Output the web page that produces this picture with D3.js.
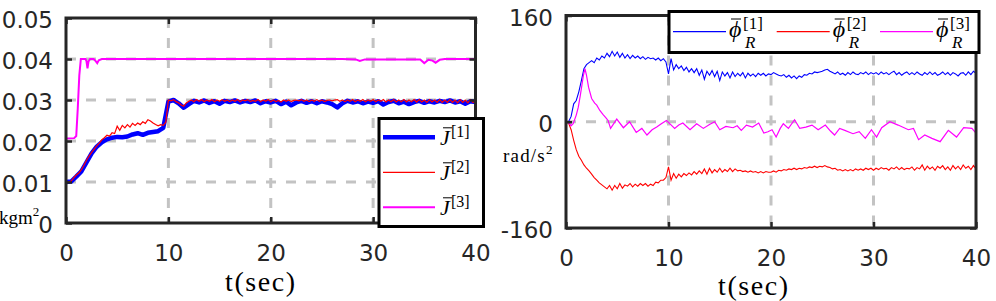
<!DOCTYPE html>
<html><head><meta charset="utf-8">
<script src="https://cdn.jsdelivr.net/npm/d3@7"></script>
<style>
html,body{margin:0;padding:0;background:#fff;}
svg{display:block;}
</style></head>
<body>
<svg id="chart" width="996" height="301"></svg>
<script>
// ---------------- data ----------------
const xTicks = [0, 10, 20, 30, 40];
const xTickLabels = ["0", "10", "20", "30", "40"];
const leftYTicks = [0, 0.01, 0.02, 0.03, 0.04, 0.05];
const leftYTickLabels = ["0", "0.01", "0.02", "0.03", "0.04", "0.05"];
const rightYTicks = [-160, 0, 160];
const rightYTickLabels = ["-160", "0", "160"];
const xLabelText = "t(sec)";
const leftUnit = "kgm";
const rightUnit = "rad/s";
const unitPower = "2";
const seriesIdx = ["[1]", "[2]", "[3]"];

// J^[1] (blue), sampled every 0.5 s
const J1_step = 0.5;
const J1 = [0.0100,0.0101,0.0113,0.0126,0.0148,0.0170,0.0186,0.0197,0.0204,0.0208,
0.0210,0.0209,0.0211,0.0216,0.0219,0.0215,0.0220,0.0222,0.0224,0.0232,
0.0296,0.0300,0.0292,0.0281,0.0290,0.0298,0.0294,0.0299,0.0293,0.0297,
0.0291,0.0298,0.0295,0.0299,0.0294,0.0298,0.0295,0.0299,0.0292,0.0297,
0.0294,0.0298,0.0290,0.0296,0.0287,0.0294,0.0298,0.0293,0.0297,0.0292,
0.0297,0.0294,0.0290,0.0282,0.0292,0.0298,0.0294,0.0297,0.0292,0.0296,
0.0293,0.0297,0.0289,0.0295,0.0298,0.0292,0.0296,0.0290,0.0295,0.0298,
0.0293,0.0297,0.0294,0.0298,0.0295,0.0299,0.0294,0.0297,0.0291,0.0297,0.0295];

// J^[2] (red), sampled every 0.25 s
const J2_step = 0.25;
const J2 = [0.0100,0.0100,0.0102,0.0110,0.0117,0.0122,0.0130,0.0141,0.0153,0.0163,
0.0172,0.0180,0.0188,0.0195,0.0203,0.0208,0.0214,0.0212,0.0220,0.0218,
0.0236,0.0226,0.0238,0.0232,0.0240,0.0234,0.0243,0.0238,0.0244,0.0240,
0.0247,0.0243,0.0252,0.0249,0.0244,0.0240,0.0237,0.0240,0.0238,0.0246,
0.0300,0.0298,0.0301,0.0296,0.0293,0.0288,0.0285,0.0293,0.0297,0.0300,
0.0296,0.0301,0.0297,0.0301,0.0296,0.0300,0.0297,0.0301,0.0296,0.0300,
0.0297,0.0301,0.0297,0.0300,0.0296,0.0300,0.0297,0.0301,0.0296,0.0300,
0.0298,0.0301,0.0296,0.0299,0.0297,0.0301,0.0296,0.0300,0.0297,0.0301,
0.0296,0.0300,0.0296,0.0299,0.0295,0.0300,0.0297,0.0300,0.0296,0.0299,
0.0300,0.0298,0.0301,0.0297,0.0300,0.0296,0.0300,0.0297,0.0301,0.0297,
0.0300,0.0296,0.0299,0.0300,0.0298,0.0300,0.0301,0.0297,0.0300,0.0296,
0.0300,0.0297,0.0301,0.0296,0.0300,0.0297,0.0301,0.0296,0.0300,0.0297,
0.0301,0.0296,0.0300,0.0297,0.0301,0.0295,0.0300,0.0296,0.0301,0.0295,
0.0300,0.0296,0.0301,0.0295,0.0300,0.0296,0.0301,0.0295,0.0301,0.0295,
0.0300,0.0294,0.0301,0.0295,0.0300,0.0294,0.0301,0.0294,0.0300,0.0294,
0.0301,0.0294,0.0300,0.0293,0.0301,0.0294,0.0300,0.0293,0.0301,0.0294,0.0299];

// J^[3] (magenta), irregular samples
const J3_t = [0, 0.8, 1.0, 1.15, 1.3, 1.45, 1.9, 2.0, 2.1, 2.2, 2.35, 2.7, 2.9, 3.05, 3.2, 3.5,
  10, 20, 27, 28.3, 28.7, 29.2, 34.6, 35.0, 35.4, 35.8, 36.1, 36.5, 37, 40];
const J3 = [0.0206, 0.0207, 0.0212, 0.0280, 0.0360, 0.0400, 0.0400, 0.0395, 0.0377, 0.0394, 0.0400,
  0.0400, 0.0395, 0.0390, 0.0397, 0.0400, 0.0400, 0.0400, 0.0400, 0.0399, 0.0395, 0.0399,
  0.0399, 0.0390, 0.0398, 0.0396, 0.0391, 0.0398, 0.0400, 0.0400];

// phi_R^[1] (blue) and phi_R^[2] (red), sampled every 0.25 s
const phi_step = 0.25;
const phi1 = [0,0,8,27,32,45,62,80,86,89,
92,89,96,93,99,96,103,98,106,99,
105,97,103,96,101,95,100,96,99,95,
98,94,97,95,96,93,96,92,95,90,
72,95,78,86,80,84,77,82,75,80,
74,80,70,78,64,76,70,77,68,76,
62,75,69,74,66,75,68,73,69,74,
66,73,69,72,68,73,70,73,69,72,
71,74,72,70,69,71,67,70,66,69,
65,69,67,71,70,73,72,75,74,75,
76,78,79,76,74,72,75,71,73,70,
74,71,75,72,71,74,72,75,71,74,
72,74,71,75,72,74,71,74,76,71,
74,70,73,75,71,74,71,75,72,70,
74,71,75,71,74,70,72,75,71,74,
70,74,72,69,73,74,70,75,71,76,73];
const phi2 = [0,-2,-12,-28,-42,-52,-58,-65,-70,-74,
-79,-84,-88,-92,-95,-98,-101,-96,-103,-96,
-101,-93,-100,-95,-97,-93,-98,-94,-97,-93,
-96,-93,-97,-94,-96,-91,-92,-88,-88,-84,
-68,-88,-78,-85,-79,-83,-78,-81,-77,-80,
-75,-79,-74,-78,-71,-79,-70,-77,-72,-76,
-70,-76,-72,-75,-70,-75,-71,-74,-73,-75,
-74,-76,-74,-76,-75,-77,-75,-77,-75,-76,
-76,-74,-76,-73,-74,-72,-73,-71,-72,-70,
-72,-70,-71,-69,-70,-68,-69,-67,-69,-67,
-68,-66,-68,-69,-71,-70,-73,-72,-74,-72,
-74,-72,-74,-71,-73,-71,-73,-70,-72,-70,
-73,-70,-72,-69,-71,-70,-73,-69,-71,-68,
-72,-69,-72,-70,-71,-68,-73,-69,-71,-65,
-73,-67,-71,-68,-73,-67,-70,-66,-72,-68,
-73,-66,-71,-67,-72,-65,-70,-67,-72,-66,-71];

// phi_R^[3] (magenta), irregular samples
const phi3_t = [0,0.3,0.5,0.7,1.0,1.2,1.4,1.55,1.7,1.85,2.0,2.2,2.5,2.8,3.0,3.3,3.6,3.9,4.1,4.35,
  4.95,5.6,6.2,6.85,7.4,7.9,8.4,8.85,9.3,9.8,10.6,11.0,11.4,12.1,12.75,13.4,14.0,14.5,15.0,15.6,
  16.3,16.7,17.1,17.6,18.2,18.8,19.3,19.7,20.1,20.5,20.9,21.2,21.7,22.3,22.8,23.4,24.0,24.6,25.3,25.8,
  26.2,26.7,27.2,28.0,28.6,29.2,29.8,30.3,30.8,31.6,32.4,33.4,33.9,34.4,35.0,35.7,36.5,37.3,38.1,38.8,39.6,40];
const phi3 = [0,-2,-6,-3,10,22,40,55,70,80,70,52,35,28,25,17,11,6,2,-10,
  4,-9,0,-16,-10,-20,-12,-8,-3,2,-10,-5,-2,-12,-3,-10,-4,0,-12,-7,
  -9,-6,-13,-5,-8,-2,-17,-15,-12,-23,-10,-3,-10,3,-10,-8,-5,-12,-5,-14,
  -20,-10,-13,-18,-15,-25,-12,-23,-9,0,-5,-12,-10,-27,-20,-25,-30,-13,-23,-9,-10,-17];

// ---------------- drawing ----------------
const svg = d3.select("#chart");
const AX = "#262626";
const SANS = "'DejaVu Sans'";
const SERIF = "'Liberation Serif'";

const xL = d3.scaleLinear().domain([0, 40]).range([66, 475.5]);
const yL = d3.scaleLinear().domain([0, 0.05]).range([223, 18]);
const xR = d3.scaleLinear().domain([0, 40]).range([566, 976]);
const yR = d3.scaleLinear().domain([-160, 160]).range([228, 15.5]);

function panel(x, y, yTicks) {
  const g = svg.append("g");
  const [x0, x1] = x.range();
  const [y1, y0] = y.range();
  const grid = g.append("g").attr("stroke", "#c3c3c3").attr("stroke-width", 3)
    .attr("stroke-dasharray", "10,10");
  xTicks.filter(d => d > x.domain()[0] && d < x.domain()[1]).forEach(d => {
    grid.append("line").attr("x1", x(d)).attr("x2", x(d)).attr("y1", y0).attr("y2", y1);
  });
  yTicks.filter(d => d > y.domain()[0] && d < y.domain()[1]).forEach(d => {
    grid.append("line").attr("x1", x0).attr("x2", x1).attr("y1", y(d)).attr("y2", y(d));
  });
  return g;
}

function axes(g, x, y, yTicks, yLabels) {
  const [x0, x1] = x.range();
  const [y1, y0] = y.range();
  const fx = d => xTickLabels[xTicks.indexOf(d)];
  const fy = d => yLabels[yTicks.indexOf(d)];
  const b = g.append("g").attr("transform", `translate(0,${y1})`)
    .call(d3.axisBottom(x).tickValues(xTicks).tickFormat(fx).tickSize(-6).tickPadding(22));
  const t = g.append("g").attr("transform", `translate(0,${y0})`)
    .call(d3.axisTop(x).tickValues(xTicks).tickFormat("").tickSize(-6));
  const l = g.append("g").attr("transform", `translate(${x0},0)`)
    .call(d3.axisLeft(y).tickValues(yTicks).tickFormat(fy).tickSize(-6).tickPadding(13));
  const r = g.append("g").attr("transform", `translate(${x1},0)`)
    .call(d3.axisRight(y).tickValues(yTicks).tickFormat("").tickSize(-6));
  [b, t, l, r].forEach(a => {
    a.select(".domain").remove();
    a.selectAll("line").attr("stroke", AX).attr("stroke-width", 2.5);
    a.selectAll("text").attr("fill", AX).style("font-family", SANS).style("font-size", "23px");
  });
  l.selectAll("text").attr("dy", "0.42em");
  g.append("rect").attr("x", x0).attr("y", y0).attr("width", x1 - x0).attr("height", y1 - y0)
    .attr("fill", "none").attr("stroke", AX).attr("stroke-width", 3);
}

function lineStep(x, y, vals, step) {
  return d3.line().x((d, i) => x(i * step)).y(d => y(d))(vals);
}
function linePairs(x, y, ts, vals) {
  return d3.line().x((d, i) => x(ts[i])).y(d => y(d))(vals);
}

// ---- left panel ----
const gL = panel(xL, yL, leftYTicks);
gL.append("path").attr("d", linePairs(xL, yL, J3_t, J3)).attr("fill", "none")
  .attr("stroke", "#ff00ff").attr("stroke-width", 2);
gL.append("path").attr("d", lineStep(xL, yL, J1, J1_step)).attr("fill", "none")
  .attr("stroke", "#0000ff").attr("stroke-width", 4.5).attr("stroke-linejoin", "round");
gL.append("path").attr("d", lineStep(xL, yL, J2, J2_step)).attr("fill", "none")
  .attr("stroke", "#ff0000").attr("stroke-width", 1.2);
axes(gL, xL, yL, leftYTicks, leftYTickLabels);

// ---- right panel ----
const gR = panel(xR, yR, rightYTicks);
gR.append("path").attr("d", lineStep(xR, yR, phi1, phi_step)).attr("fill", "none")
  .attr("stroke", "#0000ff").attr("stroke-width", 1.1);
gR.append("path").attr("d", lineStep(xR, yR, phi2, phi_step)).attr("fill", "none")
  .attr("stroke", "#ff0000").attr("stroke-width", 1.1);
gR.append("path").attr("d", linePairs(xR, yR, phi3_t, phi3)).attr("fill", "none")
  .attr("stroke", "#ff00ff").attr("stroke-width", 1.2);
axes(gR, xR, yR, rightYTicks, rightYTickLabels);

// ---- axis labels ----
function xlab(xpos, ybase) {
  svg.append("text").attr("x", xpos).attr("y", ybase)
    .style("font-family", SERIF).style("font-size", "28px")
    .attr("letter-spacing", 1.6).attr("fill", "#000").text(xLabelText);
}
xlab(225, 291);
xlab(718, 294.5);

function unit(xpos, ybase, txt, spacing) {
  const t = svg.append("text").attr("x", xpos).attr("y", ybase)
    .style("font-family", SERIF).style("font-size", "19px").attr("letter-spacing", spacing)
    .attr("fill", "#000");
  t.append("tspan").text(txt);
  t.append("tspan").style("font-size", "13px").attr("dy", -8).text(unitPower);
}
unit(-1, 224, leftUnit, 0);
unit(503, 162, rightUnit, 1.2);

// ---- left legend ----
const legL = svg.append("g");
legL.append("rect").attr("x", 379).attr("y", 118.5).attr("width", 104.5).attr("height", 108)
  .attr("fill", "#fff").attr("stroke", "#000").attr("stroke-width", 3);
const legColors = ["#0000ff", "#ff0000", "#ff00ff"];
const legLWidths = [4.5, 1.2, 2];
[137.3, 172.3, 207.3].forEach((ly, i) => {
  legL.append("line").attr("x1", 383).attr("x2", 435).attr("y1", ly).attr("y2", ly)
    .attr("stroke", legColors[i]).attr("stroke-width", legLWidths[i]);
  legL.append("text").attr("x", 440).attr("y", ly + 7.5)
    .style("font-family", SERIF).style("font-size", "22px").style("font-style", "italic")
    .attr("fill", "#000").text("J");
  legL.append("text").attr("x", 451).attr("y", ly - 0.5)
    .style("font-family", SERIF).style("font-size", "16px").attr("fill", "#000").text(seriesIdx[i]);
  legL.append("line").attr("x1", 443).attr("x2", 452).attr("y1", ly - 9.5).attr("y2", ly - 9.5)
    .attr("stroke", "#000").attr("stroke-width", 1);
});

// ---- right legend ----
const legR = svg.append("g");
legR.append("rect").attr("x", 669).attr("y", 11.5).attr("width", 310).attr("height", 41)
  .attr("fill", "#fff").attr("stroke", "#000").attr("stroke-width", 3);
[673, 776.7, 880].forEach((lx, i) => {
  const ly = 31.7;
  legR.append("line").attr("x1", lx).attr("x2", lx + 53).attr("y1", ly).attr("y2", ly)
    .attr("stroke", legColors[i]).attr("stroke-width", 1.2);
  const px = lx + 56;
  legR.append("text").attr("x", px).attr("y", 37)
    .style("font-family", SERIF).style("font-style", "italic").style("font-size", "24px")
    .attr("fill", "#000").text("ϕ");
  legR.append("line").attr("x1", px + 2).attr("x2", px + 12).attr("y1", 19).attr("y2", 19)
    .attr("stroke", "#000").attr("stroke-width", 1);
  legR.append("text").attr("x", px + 14).attr("y", 29)
    .style("font-family", SERIF).style("font-size", "17px").attr("fill", "#000").text(seriesIdx[i]);
  legR.append("text").attr("x", px + 16).attr("y", 47.5)
    .style("font-family", SERIF).style("font-style", "italic").style("font-size", "17px")
    .attr("fill", "#000").text("R");
});
</script>
</body></html>
